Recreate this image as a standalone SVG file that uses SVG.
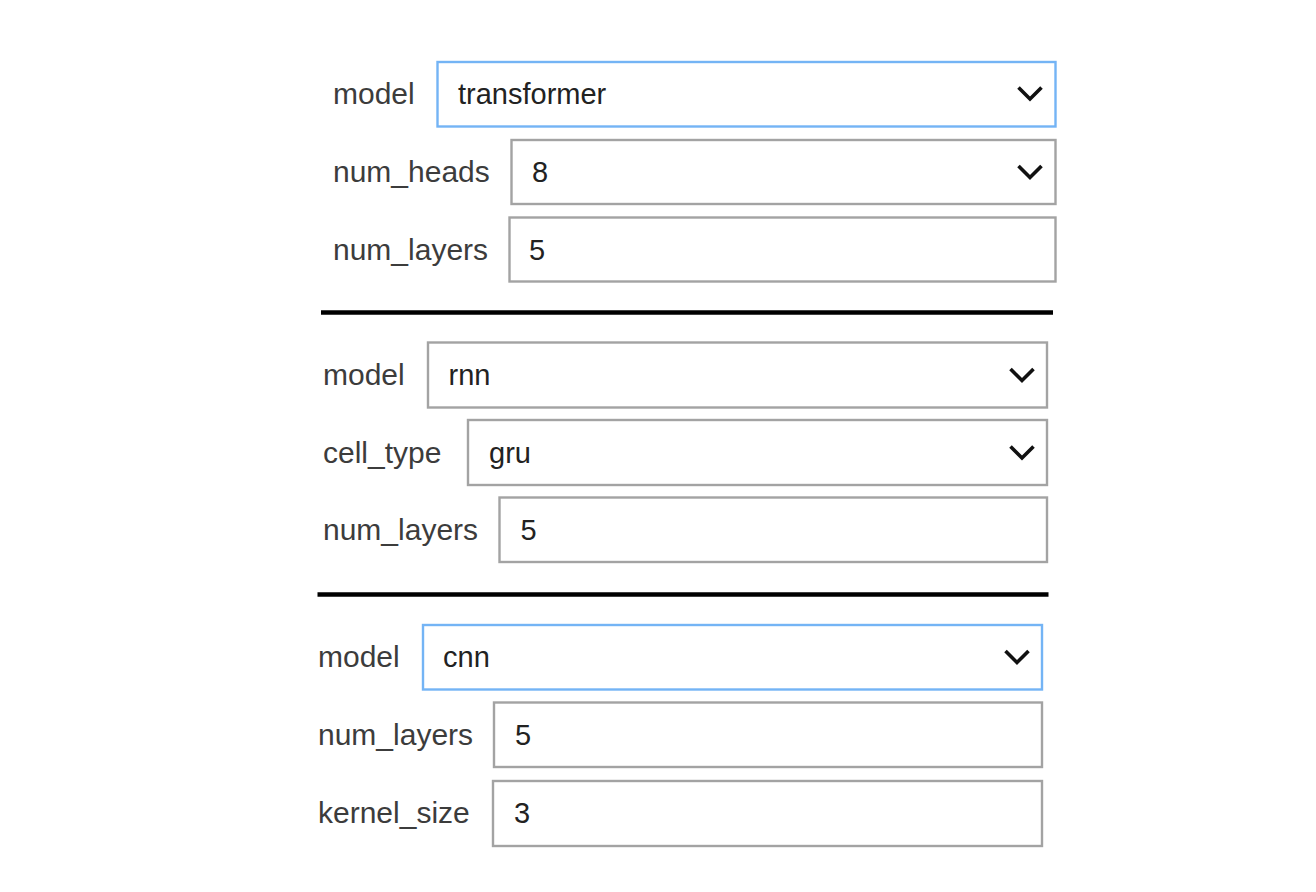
<svg xmlns="http://www.w3.org/2000/svg" width="1316" height="892" viewBox="0 0 1316 892">
<style>
.bg{fill:#ffffff}
.box{fill:#ffffff;stroke:#a3a3a3;stroke-width:2.4}
.focus{fill:#ffffff;stroke:#74b4f5;stroke-width:2.4}
.lbl{font-family:"Liberation Sans",Arial,Helvetica,sans-serif;font-size:30px;fill:#3c3c3c}
.val{font-family:"Liberation Sans",Arial,Helvetica,sans-serif;font-size:29px;fill:#222222}
.chev{fill:none;stroke:#111111;stroke-width:3.6;stroke-linejoin:miter}
.sep{stroke:#000000;stroke-width:4.5}
</style>
<defs>
<path id="chevron" class="chev" d="M -11.5 -6 L 0 5.5 L 11.5 -6"/>
</defs>
<rect class="bg" x="0" y="0" width="1316" height="892"/>

<g id="section1">
<g id="s1-model">
<text class="lbl" x="333" y="104">model</text>
<rect class="focus" x="437.5" y="62" width="618" height="64.5"/>
<text class="val" x="458" y="104">transformer</text>
<use href="#chevron" x="1030" y="93.5"/>
</g>
<g id="s1-num_heads">
<text class="lbl" x="333" y="182">num_heads</text>
<rect class="box" x="511.5" y="140" width="544" height="64"/>
<text class="val" x="532" y="182">8</text>
<use href="#chevron" x="1030" y="172"/>
</g>
<g id="s1-num_layers">
<text class="lbl" x="333" y="260">num_layers</text>
<rect class="box" x="509.5" y="217.5" width="546" height="64"/>
<text class="val" x="529" y="260">5</text>
</g>
</g>

<g id="separators">
<line class="sep" x1="321" y1="312.5" x2="1053" y2="312.5"/>
<line class="sep" x1="317.5" y1="594.5" x2="1048.5" y2="594.5"/>
</g>

<g id="section2">
<g id="s2-model">
<text class="lbl" x="323" y="385">model</text>
<rect class="box" x="428" y="342.5" width="619" height="65"/>
<text class="val" x="448.5" y="385">rnn</text>
<use href="#chevron" x="1022" y="375"/>
</g>
<g id="s2-cell_type">
<text class="lbl" x="323" y="463">cell_type</text>
<rect class="box" x="468" y="420" width="579" height="65"/>
<text class="val" x="489" y="463">gru</text>
<use href="#chevron" x="1022" y="452.5"/>
</g>
<g id="s2-num_layers">
<text class="lbl" x="323" y="540">num_layers</text>
<rect class="box" x="499.5" y="497.5" width="547.5" height="64.5"/>
<text class="val" x="520.5" y="540">5</text>
</g>
</g>

<g id="section3">
<g id="s3-model">
<text class="lbl" x="318" y="667">model</text>
<rect class="focus" x="423" y="625" width="619" height="64.5"/>
<text class="val" x="443" y="667">cnn</text>
<use href="#chevron" x="1017" y="657"/>
</g>
<g id="s3-num_layers">
<text class="lbl" x="318" y="745">num_layers</text>
<rect class="box" x="494" y="702.5" width="548" height="64.5"/>
<text class="val" x="515" y="745">5</text>
</g>
<g id="s3-kernel_size">
<text class="lbl" x="318" y="823">kernel_size</text>
<rect class="box" x="493" y="781" width="549" height="65"/>
<text class="val" x="514" y="823">3</text>
</g>
</g>
</svg>
